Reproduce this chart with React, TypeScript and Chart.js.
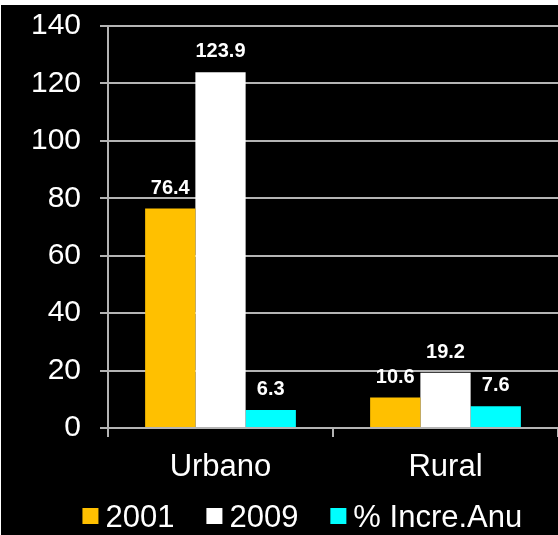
import React, { useEffect, useRef } from "react";
import { Chart, registerables } from "chart.js";

Chart.register(...registerables);

const categories = ["Urbano", "Rural"];
const seriesNames = ["2001", "2009", "% Incre.Anu"];
const values2001 = [76.4, 10.6];
const values2009 = [123.9, 19.2];
const valuesIncre = [6.3, 7.6];
const seriesColors = ["#FFC000", "#FFFFFF", "#00FFFF"];
const yTicks = [0, 20, 40, 60, 80, 100, 120, 140];

const FONT = "'Liberation Sans', Arial, sans-serif";
const GRID = "#b4b4b4";

const valueLabels = {
  id: "valueLabels",
  afterDatasetsDraw(chart: any) {
    const ctx = chart.ctx;
    ctx.save();
    ctx.fillStyle = "#ffffff";
    ctx.font = `bold 20px ${FONT}`;
    ctx.textAlign = "center";
    ctx.textBaseline = "alphabetic";
    chart.data.datasets.forEach((ds: any, i: number) => {
      const meta = chart.getDatasetMeta(i);
      meta.data.forEach((bar: any, j: number) => {
        ctx.fillText(String(ds.data[j]), bar.x, bar.y - 15);
      });
    });
    ctx.restore();
  },
};

const customLegend = {
  id: "customLegend",
  afterDraw(chart: any) {
    const ctx = chart.ctx;
    ctx.save();
    ctx.font = `31px ${FONT}`;
    ctx.textBaseline = "alphabetic";
    ctx.textAlign = "left";
    const box = 16;
    const gap = 7;
    const spacing = 32;
    const items = chart.data.datasets.map((ds: any) => ({
      label: ds.label,
      color: ds.backgroundColor,
      w: box + gap + ctx.measureText(ds.label).width,
    }));
    const total = items.reduce((a: number, it: any) => a + it.w, 0) + spacing * (items.length - 1);
    let x = chart.width * 0.541 - total / 2;
    const boxTop = 503;
    const baseline = 521.5;
    items.forEach((it: any) => {
      ctx.fillStyle = it.color;
      ctx.fillRect(x, boxTop, box, box);
      ctx.fillStyle = "#ffffff";
      ctx.fillText(it.label, x + box + gap, baseline);
      x += it.w + spacing;
    });
    ctx.restore();
  },
};

export default function App() {
  const ref = useRef<HTMLCanvasElement | null>(null);
  useEffect(() => {
    document.body.style.margin = "0";
    const canvas = ref.current;
    if (!canvas) return;
    const chart = new Chart(canvas, {
      type: "bar",
      data: {
        labels: categories,
        datasets: [
          { label: seriesNames[0], data: values2001, backgroundColor: seriesColors[0] },
          { label: seriesNames[1], data: values2009, backgroundColor: seriesColors[1] },
          { label: seriesNames[2], data: valuesIncre, backgroundColor: seriesColors[2] },
        ],
      },
      options: {
        animation: false,
        responsive: false,
        devicePixelRatio: 1,
        layout: { padding: { top: 21, left: 0, right: 0, bottom: 47 } },
        datasets: { bar: { categoryPercentage: 0.67, barPercentage: 1, borderWidth: 0 } },
        plugins: { legend: { display: false }, tooltip: { enabled: false } },
        scales: {
          x: {
            offset: true,
            grid: { display: true, drawOnChartArea: false, drawTicks: true, tickLength: 9, color: GRID, lineWidth: 2, offset: true },
            border: { display: true, color: GRID, width: 2 },
            ticks: { color: "#ffffff", font: { family: FONT, size: 31 }, padding: 12 },
            afterFit: (s: any) => { s.height = 60; s.paddingLeft = 0; s.paddingRight = 0; },
          },
          y: {
            min: 0,
            max: 140,
            afterBuildTicks: (s: any) => { s.ticks = yTicks.map((v) => ({ value: v })); },
            grid: { color: GRID, lineWidth: 2, tickLength: 8, drawTicks: true },
            border: { display: true, color: GRID, width: 2 },
            ticks: { color: "#ffffff", font: { family: FONT, size: 30 }, padding: 19 },
            afterFit: (s: any) => { s.width = 107; s.paddingTop = 0; s.paddingBottom = 0; },
          },
        },
      },
      plugins: [valueLabels, customLegend],
    });
    return () => chart.destroy();
  }, []);
  return (
    <div style={{ position: "fixed", left: 0, top: 0, width: 558, height: 535, background: "#ffffff" }}>
      <div style={{ position: "absolute", left: 1, top: 5, width: 557, height: 530, background: "#000000" }}>
        <canvas ref={ref} width={557} height={530} style={{ display: "block" }} />
      </div>
    </div>
  );
}
